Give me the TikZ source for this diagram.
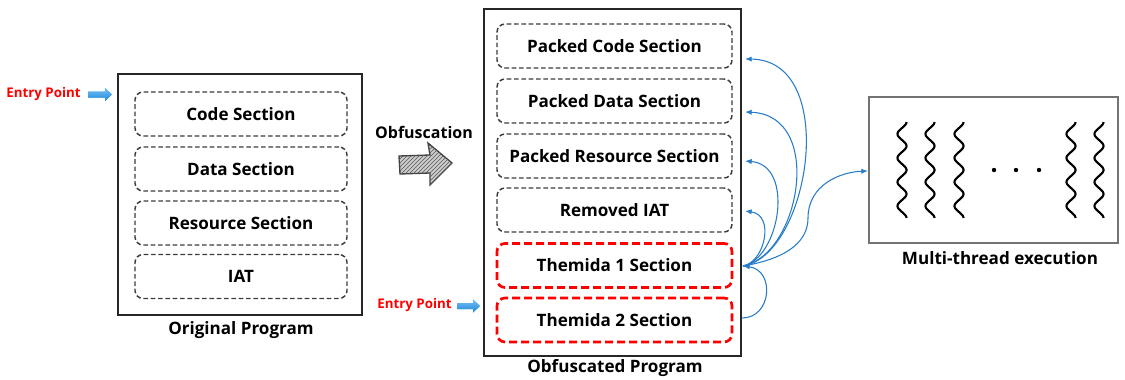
\documentclass[tikz,border=0pt]{standalone}
\usepackage{fontspec}
\setmainfont{Open Sans}
\usetikzlibrary{arrows.meta,patterns,calc}
\definecolor{conn}{RGB}{40,125,200}
\definecolor{epblue}{RGB}{30,150,240}
\definecolor{dashgray}{RGB}{60,60,60}
\tikzset{
  sec/.style={draw=dashgray, dashed, dash pattern=on 3.5pt off 2pt, line width=1.1pt, rounded corners=6pt,
    minimum height=33pt, font=\fontsize{12.8}{14}\selectfont\bfseries},
  osec/.style={sec, minimum width=159pt},
  psec/.style={sec, minimum width=176.25pt},
  rsec/.style={psec, draw=red, dash pattern=on 6pt off 3pt, line width=2pt},
  outer/.style={draw=black!85, line width=1.2pt},
  lbl/.style={font=\fontsize{12.8}{14}\selectfont\bfseries},
  eplbl/.style={font=\fontsize{10}{11}\selectfont\bfseries, text=red, inner sep=0pt},
  link/.style={draw=conn, line width=0.8pt, -{Latex[length=5pt,width=4pt]}},
  wave/.style={line width=1.6pt, black},
}
\begin{document}
\begin{tikzpicture}[x=0.75pt,y=-0.75pt]
\useasboundingbox (0,0) rectangle (1125,379);
% Original program
\node[outer, minimum width=183pt, minimum height=180.75pt] (orig) at (240,194.5) {};
\node[osec] (code) at (241,114) {Code Section};
\node[osec] (data) at (241,169) {Data Section};
\node[osec] (res) at (241,223) {Resource Section};
\node[osec] (iat) at (241,276.5) {IAT};
\node[lbl] (origlbl) at (241,330) {Original Program};
% entry point 1
\node[eplbl, anchor=east] (ep1) at (81,94) {Entry Point};
\fill[epblue, top color=epblue!60!white, bottom color=epblue!90!black] (88,91.5) -- (105,91.5) -- (105,88) -- (112,94.5) -- (105,101) -- (105,97.5) -- (88,97.5) -- cycle;
% obfuscation arrow
\node[font=\fontsize{12}{14}\selectfont\bfseries] (obflbl) at (424,132) {Obfuscation};
\path[fill=gray!40, draw=black!75, line width=1pt] (399,156) -- (430,155) -- (428,143) -- (452,163) -- (430,185) -- (430,173) -- (400,174) -- cycle;
\path[pattern=north east lines, pattern color=gray!70!black] (399,156) -- (430,155) -- (428,143) -- (452,163) -- (430,185) -- (430,173) -- (400,174) -- cycle;
% Obfuscated program
\node[outer, minimum width=192.75pt, minimum height=260.25pt] (obf) at (612.5,182.5) {};
\node[psec] (pcode) at (614.5,46) {Packed Code Section};
\node[psec] (pdata) at (614.5,101) {Packed Data Section};
\node[psec] (pres) at (614.5,156) {Packed Resource Section};
\node[psec] (riat) at (614.5,210) {Removed IAT};
\node[rsec] (t1) at (614.5,265.5) {Themida 1 Section};
\node[rsec] (t2) at (614.5,320) {Themida 2 Section};
\node[lbl] (obflbl2) at (615,368) {Obfuscated Program};
% entry point 2
\node[eplbl, anchor=east] (ep2) at (452,305.5) {Entry Point};
\fill[epblue, top color=epblue!60!white, bottom color=epblue!90!black] (457,303) -- (473,303) -- (473,299.5) -- (480,306) -- (473,312.5) -- (473,309) -- (457,309) -- cycle;
% Multi-thread
\node[draw=black!55, line width=1.1pt, minimum width=186.75pt, minimum height=109.5pt] (mt) at (993.5,170) {};
\node[lbl] (mtlbl) at (1000,258) {Multi-thread execution};
\foreach \c in {902,930,959,1071,1099}{
  \draw[wave] plot[domain=0:4, samples=90, smooth] ({\c+4.5*cos(360*\x)}, {122+24*\x});
}
\foreach \d in {994,1016,1039}{ \fill (\d,170) circle (2.2); }
% connectors
\coordinate (hub) at (743,266);
\coordinate (tc) at (745,59);
\coordinate (td) at (745,112);
\coordinate (tr) at (745,161);
\coordinate (ti) at (745,211);
\coordinate (s2) at (742,318);
\coordinate (mtin) at (868,171);
\draw[link] (s2) .. controls (772,318) and (775,270) .. (hub);
\draw[link] (hub) .. controls (810,255) and (840,60) .. (tc);
\draw[link] (hub) .. controls (800,255) and (825,115) .. (td);
\draw[link] (hub) .. controls (780,258) and (795,165) .. (tr);
\draw[link] (hub) .. controls (765,262) and (775,215) .. (ti);
\draw[link] (hub) .. controls (790,258) and (808,240) .. (808,218) .. controls (808,185) and (840,172) .. (mtin);
\end{tikzpicture}
\end{document}
